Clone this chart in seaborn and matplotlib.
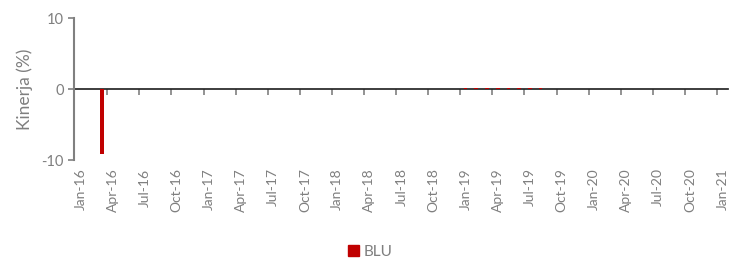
import numpy as np
import pandas as pd
import matplotlib
matplotlib.use('Agg')
import matplotlib.pyplot as plt
import seaborn as sns
from matplotlib.patches import Patch

# monthly performance (%), Jan-16 .. Jan-21
months = pd.date_range('2016-01-01', '2021-01-01', freq='MS')
month_labels = [d.strftime('%b-%y') for d in months]
kinerja = [0.0] * len(months)
kinerja[2] = -9.1                      # Mar-16
for i in [33, 34, 35]:
    kinerja[i] = 0.05
for i in [36, 37, 38, 39, 40, 41, 42, 43]:
    kinerja[i] = 0.15
for i in [44, 45, 46, 47, 48, 49, 50]:
    kinerja[i] = 0.05
series_name = 'BLU'

df = pd.DataFrame({'pos': np.arange(len(months)), 'label': month_labels, 'value': kinerja})

sns.set_theme(style='white')
plt.rcParams['font.family'] = ['Lato', 'DejaVu Sans']
plt.rcParams['axes.unicode_minus'] = False
grey = '#808080'
txt = '#7f7f7f'

fig = plt.figure(figsize=(7.41, 2.62), dpi=100)
ax = fig.add_axes([0.1, 0.389, 0.882, 0.542])

sns.barplot(data=df, x='pos', y='value', native_scale=True, color='#c00000',
            width=0.35, saturation=1, ax=ax, linewidth=0)

ax.set_xlim(-0.6, 60.5)
ax.set_ylim(-10, 10)
ax.set_yticks([-10, 0, 10])
ax.tick_params(axis='y', colors=grey, labelcolor=txt, labelsize=10.5, length=4, width=1.2, direction='out', left=True)
ax.set_ylabel('Kinerja (%)', color=txt, fontsize=12.5, labelpad=6)
ax.set_xlabel('')

# category labels along the bottom
tick_idx = df['pos'][::3]
ax.set_xticks(tick_idx)
ax.set_xticklabels(df['label'][::3], rotation=90, color=txt, fontsize=10)
ax.tick_params(axis='x', length=0, pad=6)

for s in ['top', 'right', 'bottom']:
    ax.spines[s].set_visible(False)
ax.spines['left'].set_color(grey)
ax.spines['left'].set_linewidth(1.5)

# zero line with tick marks between categories
sec = ax.secondary_xaxis(0.5)
sec.set_xticks(tick_idx[1:] - 0.5)
sec.set_xticklabels([])
sec.xaxis.set_ticks_position('bottom')
sec.tick_params(axis='x', length=4, width=1.2, colors=grey, direction='out', top=False, bottom=True)
sec.spines['bottom'].set_color(grey)
sec.spines['bottom'].set_linewidth(2)

fig.legend(handles=[Patch(color='#c00000', label=series_name)], loc='lower center',
           bbox_to_anchor=(0.5, -0.04), frameon=False, fontsize=11, labelcolor=txt,
           handlelength=0.7, handleheight=0.7, handletextpad=0.3)

fig.savefig('out.png', dpi=100)
